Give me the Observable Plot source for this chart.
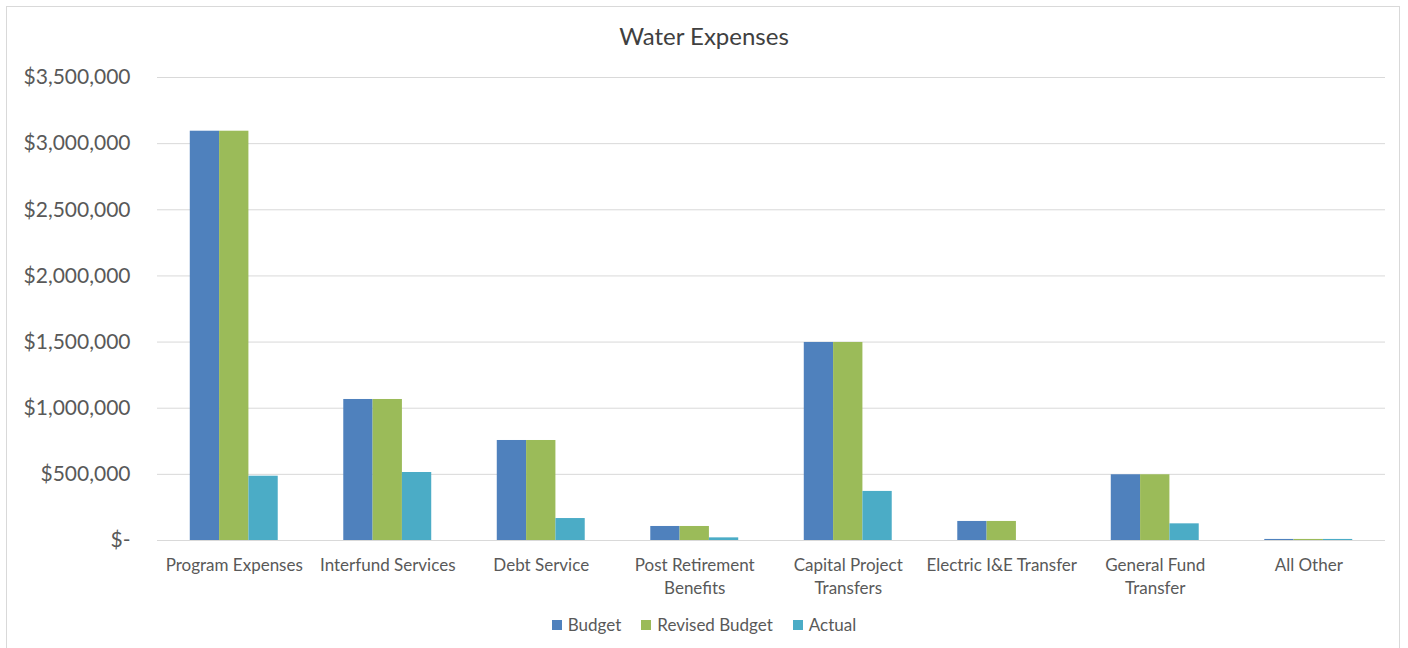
<!DOCTYPE html>
<html>
<head>
<meta charset="utf-8">
<script src="https://cdn.jsdelivr.net/npm/d3@7"></script>
<script src="https://cdn.jsdelivr.net/npm/@observablehq/plot@0.6"></script>
<style>
  body { margin: 0; background: #fff; font-family: Lato, "Open Sans", sans-serif; color: #595959; }
  #frame { position: absolute; left: 6px; top: 6px; width: 1394px; height: 646px; border: 1px solid #d9d9d9; box-sizing: border-box; }
  #title { position: absolute; top: 21px; left: 0; width: 1408px; text-align: center; font-size: 24px; color: #404040; line-height: 30px; }
  #chart { position: absolute; left: 0; top: 50px; width: 1408px; height: 560px; }
  #chart svg { position: absolute; left: 0; top: 0; }
  #legend { position: absolute; left: 0; top: 614px; width: 1408px; display: flex; justify-content: center; align-items: center; font-size: 17px; color: #595959; line-height: 22px; }
  .item { display: flex; align-items: center; margin: 0 10px; }
  .sw { width: 10px; height: 10px; margin-right: 6px; }
</style>
</head>
<body>
<div id="frame"></div>
<div id="title">Water Expenses</div>
<div id="chart"></div>
<div id="legend"></div>
<script>
const categories = ["Program Expenses", "Interfund Services", "Debt Service", "Post Retirement Benefits", "Capital Project Transfers", "Electric I&E Transfer", "General Fund Transfer", "All Other"];
const categoryLabels = ["Program Expenses", "Interfund Services", "Debt Service", "Post Retirement\nBenefits", "Capital Project\nTransfers", "Electric I&E Transfer", "General Fund\nTransfer", "All Other"];
const seriesNames = ["Budget", "Revised Budget", "Actual"];
const seriesColors = ["#4f81bd", "#9bbb59", "#4bacc6"];
const budget = [3094000, 1066000, 756000, 106000, 1497000, 144000, 497000, 8000];
const revisedBudget = [3094000, 1066000, 756000, 106000, 1497000, 144000, 497000, 8000];
const actual = [486000, 514000, 166000, 20000, 371000, 0, 126000, 8000];
const yTicks = [0, 500000, 1000000, 1500000, 2000000, 2500000, 3000000, 3500000];

const seriesValues = [budget, revisedBudget, actual];
const data = [];
categories.forEach((c, i) => {
  seriesNames.forEach((s, j) => data.push({category: c, series: s, value: seriesValues[j][i]}));
});
const labelMap = Object.fromEntries(categories.map((c, i) => [c, categoryLabels[i]]));
const fmt = d => d === 0 ? "$-" : "$" + d3.format(",")(d);

const W = 1408, H = 560;
const common = {width: W, height: H, marginTop: 27, marginBottom: 70, marginLeft: 157, marginRight: 23,
  style: {fontFamily: "Lato, 'Open Sans', sans-serif", color: "#595959", background: "transparent"}};
const padIn = 0.427, padOut = 0.2135;

const base = Plot.plot({
  ...common,
  x: {domain: categories, paddingInner: padIn, paddingOuter: padOut, round: false},
  y: {domain: [0, 3500000]},
  marks: [
    Plot.gridY(yTicks, {stroke: "#d9d9d9", strokeOpacity: 1, strokeWidth: 1}),
    Plot.axisY(yTicks, {tickSize: 0, tickPadding: 27, tickFormat: fmt, fontSize: 21, fill: "#595959"}),
    Plot.axisX({tickSize: 0, tickPadding: 14, tickFormat: d => labelMap[d], fontSize: 17, lineHeight: 1.36, fill: "#595959"})
  ]
});

const bars = Plot.plot({
  ...common,
  fx: {domain: categories, paddingInner: padIn, paddingOuter: padOut, round: false, axis: null, label: null},
  x: {domain: seriesNames, padding: 0, round: false, axis: null},
  y: {domain: [0, 3500000], axis: null},
  color: {domain: seriesNames, range: seriesColors},
  marks: [
    Plot.barY(data, {fx: "category", x: "series", y: "value", fill: "series"})
  ]
});

const chart = document.getElementById("chart");
chart.appendChild(base);
chart.appendChild(bars);

const legend = document.getElementById("legend");
seriesNames.forEach((s, i) => {
  const item = document.createElement("div");
  item.className = "item";
  const sw = document.createElement("div");
  sw.className = "sw";
  sw.style.background = seriesColors[i];
  const t = document.createElement("span");
  t.textContent = s;
  item.appendChild(sw);
  item.appendChild(t);
  legend.appendChild(item);
});
</script>
</body>
</html>
